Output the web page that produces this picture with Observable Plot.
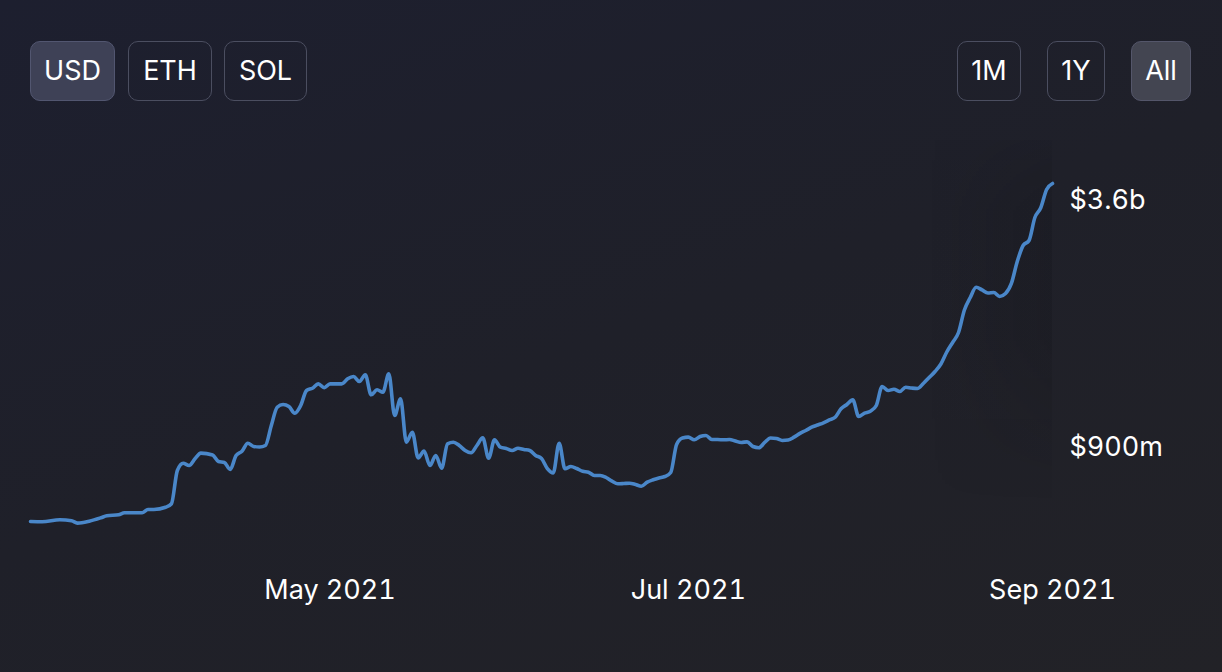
<!DOCTYPE html>
<html>
<head>
<meta charset="utf-8">
<script src="https://cdn.jsdelivr.net/npm/d3@7"></script>
<script src="https://cdn.jsdelivr.net/npm/@observablehq/plot@0.6"></script>
<style>
  html, body { margin: 0; padding: 0; }
  body { width: 1222px; height: 672px; overflow: hidden; font-family: Inter, "Noto Sans", sans-serif; }
  #wrap { position: relative; width: 1222px; height: 672px;
    background: linear-gradient(160deg, #1d1f2f 0%, #1f2029 50%, #222227 100%); }
  #head { position: relative; height: 130px; }
  .btn { position: absolute; top: 41px; height: 60px; box-sizing: border-box;
    border: 1.5px solid #4b4e60; border-radius: 10px; color: #ffffff;
    font-size: 27px; line-height: 57px; text-align: center; }
  .btn.on { background: #3e4156; border-color: #525670; }
  .btn.on2 { background: #434551; border-color: #54566a; }
  #shade { position: absolute; left: 930px; top: 140px; width: 122px; height: 360px;
    background: linear-gradient(90deg, rgba(10,10,14,0) 0%, rgba(10,10,14,0.14) 100%);
    -webkit-mask-image: linear-gradient(180deg, rgba(0,0,0,0.3) 0%, rgba(0,0,0,1) 20%, rgba(0,0,0,1) 55%, rgba(0,0,0,0) 100%);
    mask-image: linear-gradient(180deg, rgba(0,0,0,0.3) 0%, rgba(0,0,0,1) 20%, rgba(0,0,0,1) 55%, rgba(0,0,0,0) 100%); }
  #chart { position: absolute; left: 0; top: 130px; }
</style>
</head>
<body>
<div id="wrap">
  <div id="head"></div>
  <div id="shade"></div>
  <div id="chart"></div>
</div>
<script>
// Currency toggles and range toggles
const currencies = ["USD", "ETH", "SOL"];
const ranges = ["1M", "1Y", "All"];

// Dates (2021) and TVL in millions of USD
const dates = [
  "2021-03-11","2021-03-13","2021-03-16","2021-03-18","2021-03-19","2021-03-21","2021-03-23","2021-03-24",
  "2021-03-26","2021-03-27","2021-03-30","2021-03-31","2021-04-01","2021-04-03","2021-04-04","2021-04-05",
  "2021-04-06","2021-04-07","2021-04-08","2021-04-09","2021-04-11","2021-04-12","2021-04-13","2021-04-14",
  "2021-04-15","2021-04-16","2021-04-17","2021-04-18","2021-04-19","2021-04-20","2021-04-21","2021-04-22",
  "2021-04-23","2021-04-24","2021-04-25","2021-04-26","2021-04-27","2021-04-28","2021-04-29","2021-04-30",
  "2021-05-01","2021-05-02","2021-05-03","2021-05-04","2021-05-05","2021-05-06","2021-05-07","2021-05-08",
  "2021-05-09","2021-05-10","2021-05-11","2021-05-12","2021-05-13","2021-05-14","2021-05-15","2021-05-16",
  "2021-05-17","2021-05-18","2021-05-19","2021-05-20","2021-05-21","2021-05-22","2021-05-23","2021-05-24",
  "2021-05-25","2021-05-26","2021-05-27","2021-05-28","2021-05-29","2021-05-30","2021-05-31","2021-06-01",
  "2021-06-02","2021-06-03","2021-06-04","2021-06-05","2021-06-06","2021-06-07","2021-06-08","2021-06-09",
  "2021-06-10","2021-06-11","2021-06-12","2021-06-13","2021-06-14","2021-06-15","2021-06-16","2021-06-17",
  "2021-06-18","2021-06-19","2021-06-20","2021-06-21","2021-06-22","2021-06-23","2021-06-24","2021-06-25",
  "2021-06-26","2021-06-27","2021-06-28","2021-06-29","2021-06-30","2021-07-01","2021-07-02","2021-07-03",
  "2021-07-04","2021-07-05","2021-07-06","2021-07-07","2021-07-08","2021-07-09","2021-07-10","2021-07-11",
  "2021-07-12","2021-07-13","2021-07-14","2021-07-15","2021-07-16","2021-07-17","2021-07-18","2021-07-19",
  "2021-07-20","2021-07-21","2021-07-22","2021-07-23","2021-07-24","2021-07-25","2021-07-26","2021-07-27",
  "2021-07-28","2021-07-29","2021-07-30","2021-07-31","2021-08-01","2021-08-02","2021-08-03","2021-08-04",
  "2021-08-05","2021-08-06","2021-08-07","2021-08-08","2021-08-09","2021-08-10","2021-08-11","2021-08-12",
  "2021-08-13","2021-08-14","2021-08-15","2021-08-16","2021-08-17","2021-08-18","2021-08-19","2021-08-20",
  "2021-08-21","2021-08-22","2021-08-23","2021-08-24","2021-08-25","2021-08-26","2021-08-27","2021-08-28",
  "2021-08-29","2021-08-30","2021-08-31","2021-09-01"
];
const tvl = [
  91, 88, 110, 99, 73, 94, 132, 154,
  165, 187, 187, 222, 222, 247, 285, 649,
  728, 703, 776, 838, 818, 747, 736, 660,
  813, 860, 947, 911, 905, 922, 1140, 1340,
  1370, 1348, 1275, 1359, 1523, 1548, 1596, 1553,
  1596, 1596, 1596, 1651, 1676, 1621, 1695, 1476,
  1531, 1504, 1706, 1250, 1432, 958, 1067, 787,
  860, 703, 813, 674, 940, 958, 922, 867,
  842, 922, 1006, 783, 984, 903, 889, 867,
  892, 878, 867, 813, 780, 670, 623, 947,
  667, 692, 670, 640, 630, 594, 594, 572,
  532, 503, 506, 510, 496, 477, 521, 547,
  567, 583, 627, 933, 1004, 1013, 984, 1020,
  1031, 987, 987, 984, 987, 971, 955, 962,
  911, 897, 955, 1004, 998, 977, 982, 1013,
  1054, 1086, 1122, 1146, 1170, 1201, 1231, 1323,
  1370, 1421, 1239, 1275, 1297, 1359, 1567, 1523,
  1537, 1512, 1559, 1550, 1545, 1600, 1665, 1731,
  1813, 1944, 2048, 2157, 2403, 2540, 2652, 2622,
  2589, 2594, 2551, 2583, 2693, 2933, 3108, 3163,
  3414, 3520, 3720, 3786
];
const xTicks = ["2021-05-01", "2021-07-01", "2021-09-01"];
const yTicks = [900, 3600];

// header buttons
const head = document.getElementById("head");
const btnPos = {USD:[30,85], ETH:[128,84], SOL:[224,83], "1M":[957,64], "1Y":[1047,58], "All":[1131,60]};
for (const label of [...currencies, ...ranges]) {
  const b = document.createElement("div");
  b.className = "btn" + (label === "USD" ? " on" : label === "All" ? " on2" : "");
  b.style.left = btnPos[label][0] + "px";
  b.style.width = btnPos[label][1] + "px";
  b.textContent = label;
  head.appendChild(b);
}

const parse = d3.utcParse("%Y-%m-%d");
const data = dates.map((d, i) => ({date: parse(d), value: tvl[i]}));

const fmtY = v => v >= 1000 ? `$${v / 1000}b` : `$${v}m`;

const chart = Plot.plot({
  width: 1222,
  height: 542,
  marginLeft: 30,
  marginRight: 170,
  marginTop: 70,
  marginBottom: 142.67,
  style: {background: "transparent", color: "#ffffff", fontFamily: "Inter, 'Noto Sans', sans-serif"},
  x: {type: "utc", domain: [parse(dates[0]), parse(dates[dates.length - 1])]},
  y: {domain: [0, 3600]},
  marks: [
    Plot.axisX({ticks: xTicks.map(parse), tickFormat: d3.utcFormat("%b %Y"), tickSize: 0, tickPadding: 50,
      fontSize: 27, fill: "#ffffff", label: null}),
    Plot.axisY({anchor: "right", ticks: yTicks, tickFormat: fmtY, tickSize: 0, tickPadding: 17,
      fontSize: 27, fill: "#ffffff", label: null}),
    Plot.line(data, {x: "date", y: "value", stroke: "#4a87c9", strokeWidth: 3.6, curve: "monotone-x"})
  ]
});
document.getElementById("chart").appendChild(chart);
</script>
</body>
</html>
